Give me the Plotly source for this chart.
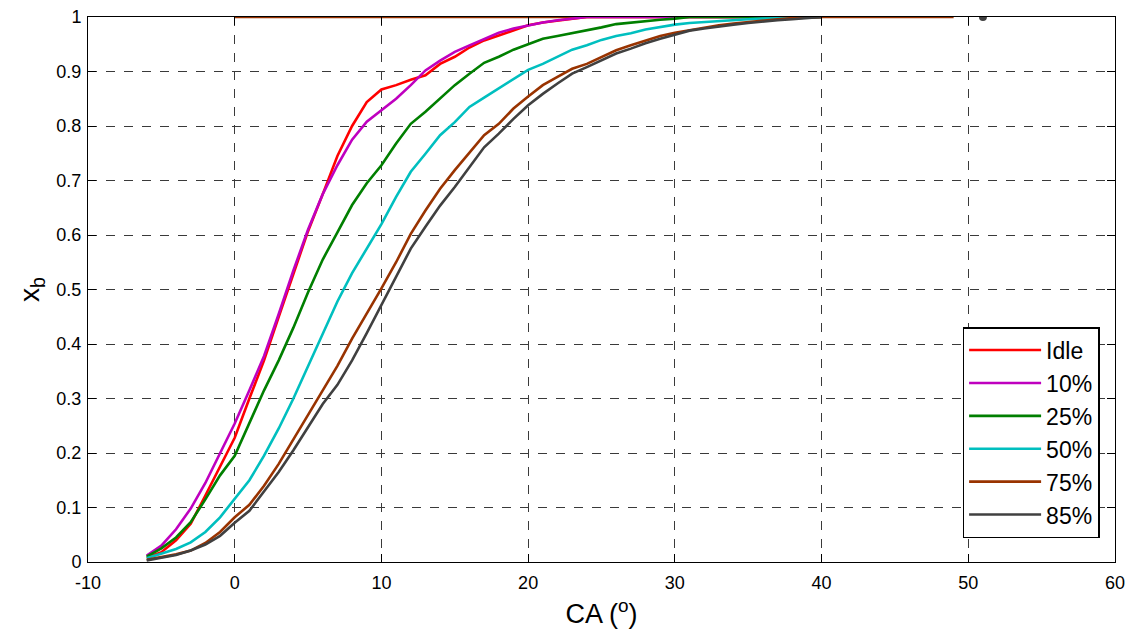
import plotly.graph_objects as go

# Crank angle (deg) at which the burned mass fraction was sampled
crank_angle = list(range(-6, 41))

# Axis tick positions and labels (plain hyphen for negative values)
ca_ticks = [-10, 0, 10, 20, 30, 40, 50, 60]
ca_tick_labels = ["-10", "0", "10", "20", "30", "40", "50", "60"]

# Mass fraction burned x_b for each load case
xb_idle = [0.008, 0.018, 0.040, 0.070, 0.122, 0.174, 0.228, 0.300, 0.370, 0.450,
           0.530, 0.607, 0.675, 0.745, 0.800, 0.844, 0.867, 0.875, 0.885, 0.893,
           0.914, 0.927, 0.944, 0.957, 0.966, 0.976, 0.985, 0.990, 0.993, 0.996,
           1.0, 1.0, 1.0, 1.0, 1.0, 1.0, 1.0, 1.0, 1.0, 1.0,
           1.0, 1.0, 1.0, 1.0, 1.0, 1.0, 1.0]
xb_10 = [0.012, 0.030, 0.060, 0.098, 0.145, 0.200, 0.254, 0.315, 0.378, 0.455,
         0.535, 0.610, 0.675, 0.728, 0.775, 0.808, 0.829, 0.850, 0.875, 0.902,
         0.920, 0.936, 0.948, 0.960, 0.971, 0.979, 0.985, 0.990, 0.994, 0.997,
         1.0, 1.0, 1.0, 1.0, 1.0, 1.0, 1.0, 1.0, 1.0, 1.0,
         1.0, 1.0, 1.0, 1.0, 1.0, 1.0, 1.0]
xb_25 = [0.010, 0.025, 0.045, 0.073, 0.115, 0.159, 0.195, 0.255, 0.315, 0.370,
         0.430, 0.495, 0.555, 0.605, 0.655, 0.695, 0.728, 0.768, 0.804, 0.826,
         0.850, 0.875, 0.896, 0.916, 0.927, 0.940, 0.950, 0.960, 0.965, 0.970,
         0.975, 0.981, 0.987, 0.990, 0.993, 0.995, 0.997, 1.0, 1.0, 1.0,
         1.0, 1.0, 1.0, 1.0, 1.0, 1.0, 1.0]
xb_50 = [0.007, 0.015, 0.024, 0.036, 0.055, 0.082, 0.117, 0.150, 0.195, 0.245,
         0.300, 0.360, 0.420, 0.478, 0.530, 0.575, 0.620, 0.670, 0.716, 0.749,
         0.783, 0.807, 0.835, 0.852, 0.869, 0.887, 0.903, 0.914, 0.927, 0.940,
         0.948, 0.958, 0.965, 0.970, 0.977, 0.982, 0.986, 0.989, 0.991, 0.993,
         0.995, 0.996, 0.997, 0.998, 0.999, 1.0, 1.0]
xb_75 = [0.004, 0.009, 0.014, 0.021, 0.035, 0.055, 0.082, 0.105, 0.140, 0.180,
         0.225, 0.270, 0.315, 0.360, 0.410, 0.455, 0.502, 0.550, 0.602, 0.645,
         0.685, 0.719, 0.752, 0.783, 0.804, 0.832, 0.854, 0.875, 0.890, 0.905,
         0.914, 0.927, 0.939, 0.948, 0.957, 0.965, 0.971, 0.976, 0.980, 0.985,
         0.988, 0.991, 0.993, 0.996, 0.998, 0.999, 1.0]
xb_85 = [0.003, 0.008, 0.013, 0.021, 0.032, 0.048, 0.072, 0.094, 0.130, 0.165,
         0.205, 0.248, 0.290, 0.325, 0.370, 0.420, 0.472, 0.523, 0.575, 0.615,
         0.654, 0.688, 0.725, 0.761, 0.786, 0.813, 0.838, 0.859, 0.878, 0.896,
         0.908, 0.920, 0.933, 0.942, 0.952, 0.960, 0.968, 0.975, 0.979, 0.983,
         0.986, 0.989, 0.992, 0.994, 0.996, 0.998, 1.0]

# Fully burned plateau and end-of-combustion marker
plateau_ca = [0, 49]
plateau_xb = [1.0, 1.0]
eoc_ca = [51]
eoc_xb = [1.0]

series = [
    ("Idle", xb_idle, "#FF0000"),
    ("10%", xb_10, "#BF00BF"),
    ("25%", xb_25, "#007F00"),
    ("50%", xb_50, "#00BFBF"),
    ("75%", xb_75, "#993300"),
    ("85%", xb_85, "#404040"),
]

FONT = "Liberation Sans, Arial"

fig = go.Figure()
fig.add_trace(go.Scatter(x=plateau_ca, y=plateau_xb, mode="lines",
                         line=dict(color="#993300", width=2.5),
                         showlegend=False, hoverinfo="skip"))
for name, vals, color in series:
    fig.add_trace(go.Scatter(x=crank_angle, y=vals, mode="lines", name=name,
                             line=dict(color=color, width=2.6)))
fig.add_trace(go.Scatter(x=eoc_ca, y=eoc_xb, mode="markers",
                         marker=dict(color="#404040", size=8),
                         showlegend=False, hoverinfo="skip"))

axis_common = dict(
    showline=True, linecolor="black", linewidth=1, mirror="allticks",
    ticks="inside", ticklen=8, tickcolor="black",
    showgrid=True, gridcolor="#3a3a3a", gridwidth=1, griddash="dash",
    zeroline=False, automargin=False,
    tickfont=dict(family=FONT, size=18, color="black"),
)

fig.update_xaxes(range=[-10, 60], tickmode="array", tickvals=ca_ticks,
                 ticktext=ca_tick_labels, ticklabelstandoff=4,
                 title=dict(text="CA (<sup>o</sup>)", standoff=12,
                            font=dict(family=FONT, size=27, color="black")),
                 **axis_common)
fig.update_yaxes(range=[0, 1], dtick=0.1, tick0=0, ticklabelstandoff=2,
                 title=dict(text="x<sub>b</sub>", standoff=8,
                            font=dict(family=FONT, size=28, color="black")),
                 **axis_common)

fig.update_layout(
    width=1132, height=631,
    margin=dict(l=88, r=17, t=17, b=69),
    paper_bgcolor="white", plot_bgcolor="white",
    font=dict(family=FONT, color="black"),
    showlegend=True,
    legend=dict(
        x=0.985, y=0.431, xanchor="right", yanchor="top",
        bgcolor="white", bordercolor="black", borderwidth=1.5,
        font=dict(family=FONT, size=23, color="black"),
        itemwidth=72, tracegroupgap=0,
    ),
)

fig.write_html("out.html")
